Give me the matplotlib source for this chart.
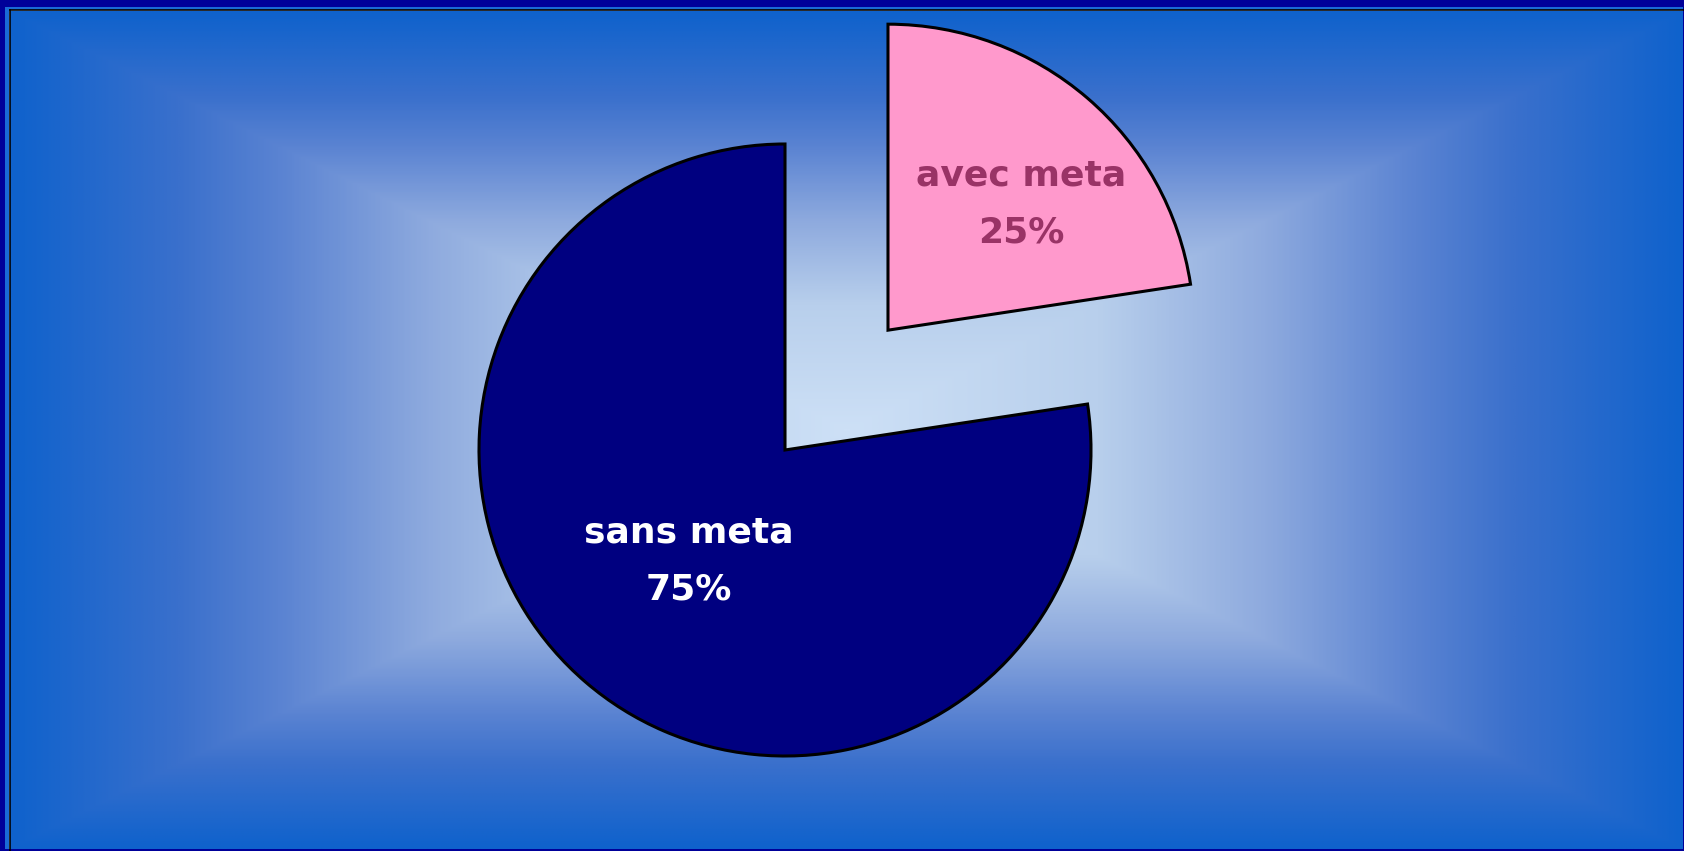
import numpy as np
import matplotlib.pyplot as plt
from matplotlib.colors import LinearSegmentedColormap
from matplotlib.patches import Rectangle

# slice data (labels as printed on the chart)
categories = ["sans meta", "avec meta"]
shares = [77.4, 22.6]
pct_labels = ["75%", "25%"]

W, H = 1684, 851
NAVY = "#000080"
PINK = "#ff99cc"
PLUM = "#993366"

fig = plt.figure(figsize=(W / 100, H / 100), dpi=100)
ax = fig.add_axes([0, 0, 1, 1])

# rectangular "from centre" gradient backdrop
x0, x1, y0, y1 = 10, W, 2, H - 11
gx = np.linspace(-1, 1, 800)
gy = np.linspace(-1, 1, 420)
XX, YY = np.meshgrid(gx, gy)
t = np.maximum(np.abs(XX), np.abs(YY))
bg_cmap = LinearSegmentedColormap.from_list(
    "bg",
    [(0.0, "#cde0f6"), (0.3, "#b8cfec"), (0.5, "#8eaade"),
     (0.68, "#5a83d2"), (0.8, "#3a70cc"), (1.0, "#0f62cc")],
)
ax.imshow(t, cmap=bg_cmap, vmin=0, vmax=1, extent=(x0, x1, y0, y1),
          origin="lower", interpolation="bilinear", zorder=0, aspect="auto")

# frame
ax.add_patch(Rectangle((0, H - 7), W, 7, color="#000099", lw=0, zorder=1))
ax.add_patch(Rectangle((0, H - 9.5), W, 2.5, color="#1a6ad6", lw=0, zorder=1))
ax.add_patch(Rectangle((0, 0), 5, H, color="#000099", lw=0, zorder=1))
ax.add_patch(Rectangle((5, 0), 3.5, H - 9.5, color="#1a6ad6", lw=0, zorder=1))
ax.add_patch(Rectangle((0, 0), W, 2, color="#000099", lw=0, zorder=1))
ax.add_patch(Rectangle((W - 1.5, 0), 1.5, H, color="#000099", lw=0, zorder=1))
ax.plot([9.5, 9.5], [0, H - 10], color="black", lw=1.2, zorder=2)
ax.plot([9.5, W], [H - 10, H - 10], color="black", lw=1.2, zorder=2)

# pie
radius = 306
center = (785, H - 450)
wedges, _ = ax.pie(
    shares, colors=[NAVY, PINK], startangle=90, counterclock=True,
    radius=radius, center=center, explode=[0, 158],
    wedgeprops=dict(edgecolor="black", linewidth=2.2, zorder=3),
)

label_colors = ["white", PLUM]
label_dist = [0.48, 0.6]
label_shift = [0, -6]
for w, name, pct, col, d, sh in zip(wedges, categories, pct_labels,
                                    label_colors, label_dist, label_shift):
    mid = np.deg2rad((w.theta1 + w.theta2) / 2 + sh)
    cx, cy = w.center
    ax.text(cx + d * radius * np.cos(mid), cy + d * radius * np.sin(mid),
            f"{name}\n{pct}", ha="center", va="center", color=col,
            fontsize=26, fontweight="bold", family="DejaVu Sans",
            linespacing=1.85, zorder=4)

ax.set_xlim(0, W)
ax.set_ylim(0, H)
ax.set_aspect("auto")
ax.axis("off")

fig.savefig("out.png", dpi=100)
